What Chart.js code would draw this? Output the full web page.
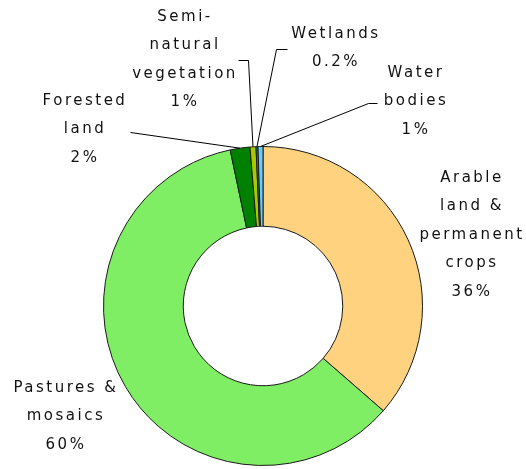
<!DOCTYPE html>
<html>
<head>
<meta charset="utf-8">
<script src="https://cdn.jsdelivr.net/npm/chart.js@4/dist/chart.umd.min.js"></script>
<style>
  html, body { margin: 0; padding: 0; background: #fff; }
  canvas { display: block; }
</style>
</head>
<body>
<canvas id="landChart" width="526" height="469"></canvas>
<script>
// land cover shares (%), clockwise from 12 o'clock
let categories = ['Arable land & permanent crops', 'Pastures & mosaics', 'Forested land',
                  'Semi-natural vegetation', 'Wetlands', 'Water bodies'];
let shares = [36.4, 60.3, 2, 0.6, 0.2, 0.5];
let labelLines = [
    ['Arable', 'land &', 'permanent', 'crops'],
    ['Pastures &', 'mosaics'],
    ['Forested', 'land'],
    ['Semi-', 'natural', 'vegetation'],
    ['Wetlands'],
    ['Water', 'bodies']
];
let sliceColors = ['#FFD280', '#80EE64', '#008000', '#A8C800', '#1E8A7A', '#66CCFF'];

// where each label sits and the elbow points of its leader line
let labelPlaces = [
    { x: 471, y: 178, leader: null },
    { x: 65, y: 388, leader: null },
    { x: 84, y: 101, leader: [[130, 132]] },
    { x: 184, y: 17, leader: [[238, 60], [248, 60]] },
    { x: 335, y: 34, leader: [[287, 49], [276, 49]] },
    { x: 415, y: 73, leader: [[377, 103], [368, 103]] }
];

function pctText(v) {
    return (v >= 0.5 ? Math.round(v) : v.toFixed(1)) + '%';
}

let outsideLabels = {
    id: 'outsideLabels',
    afterDraw(chart) {
        let ctx = chart.ctx;
        let arcs = chart.getDatasetMeta(0).data;
        ctx.save();

        // leader lines
        ctx.strokeStyle = '#000';
        ctx.lineWidth = 1;
        labelPlaces.forEach((p, i) => {
            if (!p.leader) return;
            let a = arcs[i];
            let mid = (a.startAngle + a.endAngle) / 2;
            let ex = a.x + Math.cos(mid) * a.outerRadius;
            let ey = a.y + Math.sin(mid) * a.outerRadius;
            ctx.beginPath();
            ctx.moveTo(p.leader[0][0] + 0.5, p.leader[0][1] + 0.5);
            for (let k = 1; k < p.leader.length; k++) {
                ctx.lineTo(p.leader[k][0] + 0.5, p.leader[k][1] + 0.5);
            }
            ctx.lineTo(ex, ey);
            ctx.stroke();
        });

        // texts
        ctx.fillStyle = '#111';
        ctx.font = '15px "DejaVu Sans"';
        ctx.letterSpacing = '2.5px';
        ctx.textAlign = 'center';
        ctx.textBaseline = 'middle';
        labelPlaces.forEach((p, i) => {
            let lines = labelLines[i].concat([pctText(shares[i])]);
            lines.forEach((t, k) => {
                ctx.fillText(t, p.x + 1, p.y + k * 28.5);
            });
        });
        ctx.restore();
    }
};

let ctx = document.getElementById('landChart').getContext('2d');

let myDoughnut = new Chart(ctx, {
    type: 'doughnut',
    data: {
        labels: categories,
        datasets: [{
            data: shares,
            backgroundColor: sliceColors,
            borderColor: '#1a1a1a',
            borderWidth: 1
        }]
    },
    options: {
        responsive: false,
        animation: false,
        cutout: '50%',
        layout: {
            padding: { left: 103, right: 103, top: 146, bottom: 3 }
        },
        plugins: {
            legend: { display: false },
            tooltip: { enabled: false }
        }
    },
    plugins: [outsideLabels]
});
</script>
</body>
</html>
